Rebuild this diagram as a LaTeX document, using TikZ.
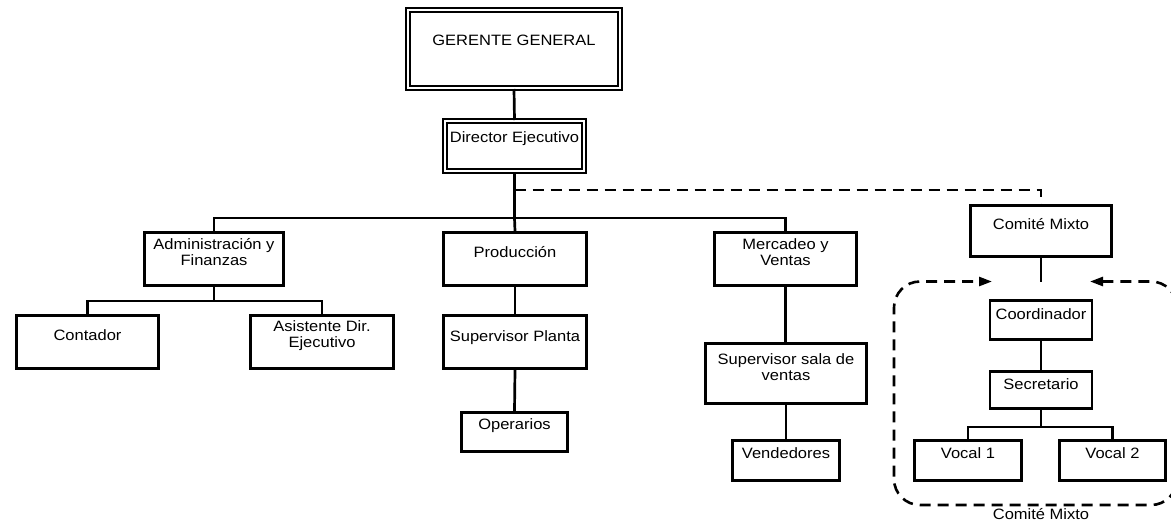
\documentclass[tikz,border=0pt]{standalone}
\usepackage{fontspec}
\setmainfont{Liberation Sans}[FakeStretch=1.1]
\usetikzlibrary{arrows.meta}
\newcommand\chartfont{\fontsize{15}{16}\selectfont}

\begin{document}
\begin{tikzpicture}[x=1pt,y=-1pt,
  box/.style={draw, line width=2.8pt, inner sep=0pt},
  dbox/.style={draw, line width=2pt, double, double distance=1.8pt, inner sep=0pt},
  txt/.style={inner sep=0pt, anchor=north, align=center, font=\chartfont},
  link/.style={line width=2.7pt},
  dlink/.style={line width=2.6pt, dash pattern=on 11pt off 7pt},
  tip/.style={{Triangle[length=13pt,width=9pt]}-{Triangle[length=13pt,width=9pt]}}
]
\useasboundingbox (0,0) rectangle (1171,523);

% --- top management (double frames) ---
\node[dbox, minimum width=212pt, minimum height=78pt] (gg) at (514,49) {};
\node[dbox, minimum width=139pt, minimum height=50pt] (de) at (514.5,146) {};

% --- departments ---
\node[box, minimum width=139pt, minimum height=53pt] (admin) at (214,259) {};
\node[box, minimum width=143pt, minimum height=53pt] (prod)  at (515,259) {};
\node[box, minimum width=142pt, minimum height=53pt] (merc)  at (785.5,259) {};
\node[box, minimum width=141pt, minimum height=51pt] (cm)    at (1041,231) {};

% --- staff ---
\node[box, minimum width=142pt, minimum height=53pt] (cont) at (87.5,342) {};
\node[box, minimum width=143pt, minimum height=53pt] (asis) at (322,342) {};
\node[box, minimum width=143pt, minimum height=53pt] (supp) at (515,342) {};
\node[box, minimum width=106pt, minimum height=39pt] (oper) at (514.5,432) {};
\node[box, minimum width=161pt, minimum height=60pt] (sups) at (786,373.5) {};
\node[box, minimum width=107pt, minimum height=40pt] (vend) at (786,460.5) {};

% --- joint committee members ---
\node[box, minimum width=102pt, minimum height=39pt] (coord) at (1041,320) {};
\node[box, minimum width=102pt, minimum height=37pt] (secr)  at (1041,390) {};
\node[box, minimum width=107pt, minimum height=40pt] (voc1)  at (968,460.5) {};
\node[box, minimum width=106pt, minimum height=40pt] (voc2)  at (1112.5,460.5) {};

% --- box texts (top aligned) ---
\node[txt] (t-gg)    at (514,35)     {GERENTE GENERAL};
\node[txt] (t-de)    at (514.5,131.5){Director Ejecutivo};
\node[txt] (t-admin) at (214,238)    {Administración y\\Finanzas};
\node[txt] (t-prod)  at (515,246.5)  {Producción};
\node[txt] (t-merc)  at (785.5,238)  {Mercadeo y\\Ventas};
\node[txt] (t-cm)    at (1041,218)   {Comité Mixto};
\node[txt] (t-cont)  at (87.5,329.5) {Contador};
\node[txt] (t-asis)  at (322,320.5)  {Asistente Dir.\\Ejecutivo};
\node[txt] (t-supp)  at (515,330)    {Supervisor Planta};
\node[txt] (t-oper)  at (514.5,418)  {Operarios};
\node[txt] (t-sups)  at (786,353.5)  {Supervisor sala de\\ventas};
\node[txt] (t-vend)  at (786,447)    {Vendedores};
\node[txt] (t-coord) at (1041,308)   {Coordinador};
\node[txt] (t-secr)  at (1041,378)   {Secretario};
\node[txt] (t-voc1)  at (968,447)    {Vocal 1};
\node[txt] (t-voc2)  at (1112.5,447) {Vocal 2};

% --- junction points ---
\coordinate (hub)   at (514.5,218);
\coordinate (djoin) at (514.5,190);
\coordinate (ahub)  at (214,301);
\coordinate (cmend) at (1041,282);
\coordinate (vhub)  at (1041,427);
\coordinate (gapL)  at (992,281.5);
\coordinate (gapR)  at (1090,281.5);

% --- solid reporting lines ---
\draw[link] (gg.south) -- (de.north);
\draw[link] (de.south) -- (hub) -- (prod.north);
\draw[link, line width=2.2pt] (admin.north) |- (hub) -| (merc.north);
\draw[link] (admin.south) -- (ahub);
\draw[link, line width=2.2pt] (cont.north) |- (ahub) -| (asis.north);
\draw[link] (prod.south) -- (supp.north);
\draw[link] (supp.south) -- (oper.north);
\draw[link] (merc.south) -- (merc.south |- sups.north);
\draw[link] (sups.south) -- (vend.north);
\draw[link] (cm.south) -- (cmend);
\draw[link] (coord.south) -- (secr.north);
\draw[link] (secr.south) -- (vhub);
\draw[link, line width=2.2pt] (voc1.north) |- (vhub) -| (voc2.north);

% --- dashed advisory line to the committee ---
\draw[dlink] (djoin) -| (cm.north);

% --- dashed committee boundary with inward arrows ---
\draw[dlink, tip, rounded corners=26pt]
  (gapR) -- (1177,281.5) -- (1177,505) -- (894,505) -- (894,281.5) -- (gapL);
\node[txt] (cmlabel) at (1041,508) {Comité Mixto};
\end{tikzpicture}
\end{document}
